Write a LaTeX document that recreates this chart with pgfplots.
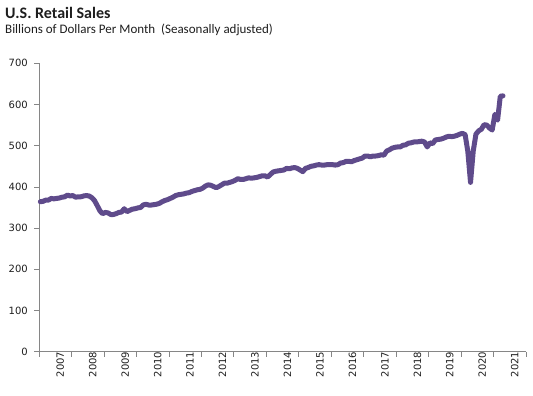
\documentclass[border=0pt]{standalone}
\usepackage{fontspec}
\setmainfont{Carlito}
\newfontfamily\axnumfont{DejaVu Sans}
\usepackage{pgfplots}
\usepackage{pgfplotstable}
\pgfplotsset{compat=1.18}
\definecolor{lineP}{RGB}{95,75,139}
\definecolor{axgray}{RGB}{134,134,134}
\definecolor{txt}{RGB}{30,30,30}
\pgfplotstableread[header=false]{
364
365
368
368
372
371
372
373
375
376
380
378
379
375
376
376
378
379
378
374
367
355
342
335
338
337
333
333
335
338
339
347
340
343
346
347
349
350
356
358
356
356
357
358
360
364
367
369
372
375
379
381
382
383
385
386
389
391
393
394
397
402
405
404
401
398
401
405
409
409
411
413
416
420
418
418
420
422
421
422
423
425
427
427
424
430
436
438
439
440
441
445
444
446
447
445
441
437
445
447
450
451
453
454
453
453
454
454
454
453
454
458
459
462
462
461
464
466
468
470
475
475
473
475
475
476
478
477
487
490
494
496
497
497
501
502
506
507
509
509
510
511
509
497
507
505
514
515
516
518
521
523
522
523
525
528
530
527
486
411
487
528
536
540
551
550
543
538
576
562
620
621
}\sales
\begin{document}
\begin{tikzpicture}
\path[use as bounding box] (0pt,0pt) rectangle (533pt,396pt);
\node[anchor=base west, inner sep=0, text=txt, font=\fontsize{16}{19}\selectfont\bfseries] at (5pt,377.7pt) {U.S. Retail Sales};
\node[anchor=base west, inner sep=0, text=txt, font=\fontsize{13}{15}\selectfont] at (5pt,362.5pt) {Billions of Dollars Per Month\ \ (Seasonally adjusted)};
\begin{axis}[
  at={(39pt,44.3pt)}, anchor=south west,
  scale only axis, width=487pt, height=288.4pt,
  xmin=2007, xmax=2022, ymin=0, ymax=700,
  axis lines*=left, axis line style={-, draw=axgray},
  tick style={draw=axgray, line width=0.6pt},
  tick align=outside,
  major tick length=0pt,
  minor tick length=5pt,
  ytick={0,100,...,700},
  minor ytick={0,100,...,700},
  xtick={2007.5,2008.5,...,2021.5},
  xticklabels={2007,2008,2009,2010,2011,2012,2013,2014,2015,2016,2017,2018,2019,2020,2021},
  minor xtick={2007,2008,...,2022},
  xticklabel style={rotate=90, anchor=east, inner sep=0pt, yshift=-5pt},
  yticklabel style={inner sep=0pt, xshift=-11pt},
  tick label style={font=\axnumfont\fontsize{10}{12}\selectfont, text=txt},
  /pgf/number format/assume math mode=true,
  clip=false,
]
\addplot[lineP, line width=5pt, line join=round, line cap=round] table[x expr={2007+(\coordindex+0.5)/12}, y index=0] {\sales};
\end{axis}
\end{tikzpicture}
\end{document}
